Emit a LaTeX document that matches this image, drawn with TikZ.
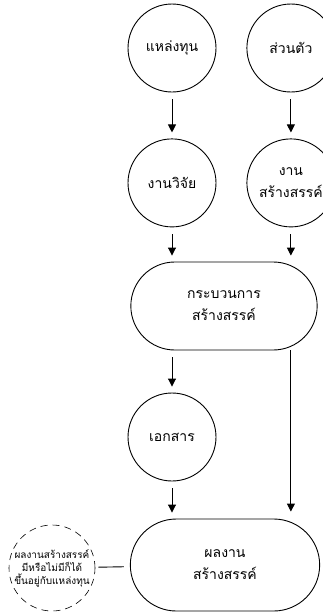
\documentclass[tikz,border=0pt]{standalone}
\usepackage{fontspec}
\setmainfont[Script=Thai]{Loma}
\usepackage{tikz}
\usetikzlibrary{positioning, arrows.meta, shapes.misc}

\begin{document}
\begin{tikzpicture}[x=1pt, y=1pt, >={Triangle[length=8pt,width=8pt]},
                line width=0.9pt, node distance=46pt, font=\fontsize{14}{22}\selectfont,
                src/.style={circle, draw, minimum size=88pt, align=center, inner sep=0pt},
                proc/.style={rounded rectangle, draw, minimum height=88pt, minimum width=193pt, align=center},
                note/.style={circle, draw, line width=0.6pt, dash pattern=on 7pt off 5pt,
                             minimum size=86pt, align=center, inner sep=0pt,
                             font=\fontsize{10}{13}\selectfont}]
    \useasboundingbox (0,0) rectangle (322,-614);

    \node[src] (fund) at (172,-48) {แหล่งทุน};
    \node[src] (own) [right=30pt of fund] {ส่วนตัว};
    \node[src] (research) [below=of fund] {งานวิจัย};
    \node[src] (work) [below=of own] {งาน\\สร้างสรรค์};
    \node[proc] (process) at (224,-306) {กระบวนการ\\สร้างสรรค์};
    \node[src] (doc) at (172,-437) {เอกสาร};
    \node[proc, minimum height=92pt, minimum width=196pt] (result) at (225,-565) {ผลงาน\\สร้างสรรค์};
    \node[note] (remark) at (52,-568) {ผลงานสร้างสรรค์\\มีหรือไม่มีก็ได้\\ขึ้นอยู่กับแหล่งทุน};

    \path[->, shorten <=7pt, shorten >=6pt]
        (fund) edge (research)
        (own) edge (work)
        (research) edge (research |- process.north)
        (work) edge (work |- process.north)
        (doc |- process.south) edge (doc)
        (doc) edge (doc |- result.north);
    \draw[->, shorten >=7pt] (work |- process.south) -- (work |- result.north);
    \draw[shorten <=3pt, shorten >=6pt] (remark) -- (result);

\end{tikzpicture}
\end{document}
